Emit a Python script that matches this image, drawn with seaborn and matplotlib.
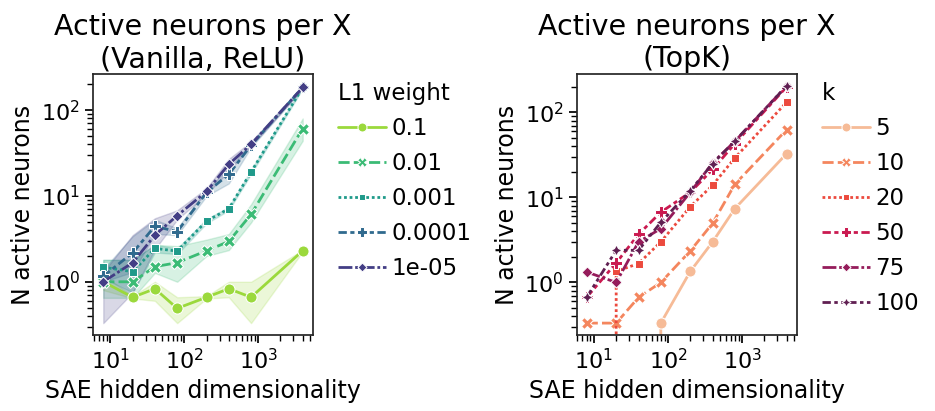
import numpy as np
import pandas as pd
import matplotlib
matplotlib.use("Agg")
import matplotlib.pyplot as plt
import seaborn as sns

# ---------------- data ----------------
dims = [8, 20, 40, 80, 200, 400, 800, 4000]

l1_levels = ["0.1", "0.01", "0.001", "0.0001", "1e-05"]
# per L1 weight: lower seed, central seed, upper seed
l1_low = {
    "0.1":    [0.80, 0.64, 0.60, 0.33, 0.64, 0.66, 0.33, 2.25],
    "0.01":   [0.65, 0.65, 1.27, 1.00, 2.00, 2.34, 4.90, 44.0],
    "0.001":  [1.10, 0.75, 2.20, 2.10, 4.80, 6.80, 18.0, 178.0],
    "0.0001": [1.00, 1.30, 3.60, 3.50, 10.0, 14.0, 37.0, 178.0],
    "1e-05":  [0.33, 0.75, 2.40, 5.30, 10.5, 19.5, 38.0, 178.0],
}
l1_mid = {
    "0.1":    [1.00, 0.66, 0.83, 0.49, 0.66, 0.83, 0.66, 2.30],
    "0.01":   [1.00, 1.00, 1.50, 1.67, 2.30, 2.95, 6.10, 61.0],
    "0.001":  [1.48, 1.31, 2.45, 2.28, 5.10, 7.10, 19.0, 184.0],
    "0.0001": [1.16, 2.18, 4.45, 3.83, 11.0, 17.9, 39.0, 184.0],
    "1e-05":  [1.00, 1.67, 3.50, 5.90, 11.3, 23.4, 40.0, 184.0],
}
l1_high = {
    "0.1":    [1.20, 0.68, 1.00, 0.66, 0.68, 1.00, 1.00, 2.35],
    "0.01":   [1.80, 1.80, 2.70, 2.60, 3.10, 3.60, 8.00, 80.0],
    "0.001":  [1.80, 1.80, 2.70, 2.45, 5.40, 7.40, 20.0, 190.0],
    "0.0001": [1.40, 3.40, 5.30, 4.20, 12.0, 21.0, 42.0, 190.0],
    "1e-05":  [1.30, 3.50, 5.50, 6.80, 12.3, 27.0, 43.0, 192.0],
}

k_levels = ["5", "10", "20", "50", "75", "100"]
k_active = {
    "5":   [0.0, 0.0, 0.0, 0.333, 1.35, 3.0, 7.4, 32.8],
    "10":  [0.333, 0.333, 0.667, 1.0, 2.35, 4.96, 14.3, 62.7],
    "20":  [0.0, 1.35, 1.67, 3.0, 7.8, 13.9, 29.2, 132.0],
    "50":  [0.67, 1.70, 3.68, 6.7, 11.5, 21.3, 43.0, 200.0],
    "75":  [1.33, 1.00, 3.00, 4.3, 11.5, 25.5, 45.7, 205.0],
    "100": [0.67, 2.39, 2.39, 5.1, 12.0, 25.0, 46.0, 205.0],
}

XL = "SAE hidden dimensionality"
YL = "N active neurons"

rows = []
for lvl in l1_levels:
    for arr in (l1_low[lvl], l1_mid[lvl], l1_high[lvl]):
        for d, v in zip(dims, arr):
            rows.append({XL: d, YL: v, "L1 weight": lvl})
df_vanilla = pd.DataFrame(rows)

rows = []
for lvl in k_levels:
    for d, v in zip(dims, k_active[lvl]):
        rows.append({XL: d, YL: v, "k": lvl})
df_topk = pd.DataFrame(rows)

# ---------------- style ----------------
sns.set_theme(style="ticks", context="notebook")
plt.rcParams['font.family'] = ['DejaVu Sans']
plt.rcParams.update({
    "text.color": "black",
    "axes.labelcolor": "black",
    "xtick.color": "black",
    "ytick.color": "black",
    "axes.edgecolor": "#262626",
})

vir = matplotlib.colormaps["viridis"]
pal_left = [vir(p) for p in (0.85, 0.68, 0.54, 0.34, 0.18)]
pal_right = sns.color_palette("rocket_r", 7)[:6]

fig = plt.figure(figsize=(9.35, 4.11), dpi=100)
ax1 = fig.add_axes([0.0998, 0.185, 0.2346, 0.635])
ax2 = fig.add_axes([0.6168, 0.185, 0.2353, 0.635])

sns.lineplot(data=df_vanilla, x=XL, y=YL, hue="L1 weight", style="L1 weight",
             hue_order=l1_levels, style_order=l1_levels, palette=pal_left,
             markers=True, dashes=True, estimator="median",
             errorbar=("pi", 100), linewidth=2.0, markersize=8, ax=ax1)
sns.lineplot(data=df_topk, x=XL, y=YL, hue="k", style="k",
             hue_order=k_levels, style_order=k_levels, palette=pal_right,
             markers=True, dashes=True, errorbar=None, linewidth=2.0,
             markersize=8, ax=ax2)

titles = ["Active neurons per X\n(Vanilla, ReLU)", "Active neurons per X\n(TopK)"]
for ax, t in zip((ax1, ax2), titles):
    ax.set_xscale("log")
    ax.set_yscale("log")
    ax.set_title(t, fontsize=20.5, pad=5)
    ax.set_xlabel(XL, fontsize=17)
    ax.set_ylabel(YL, fontsize=17)
    ax.tick_params(axis="both", which="major", labelsize=16)
    sns.move_legend(ax, "upper left", bbox_to_anchor=(1.02, 1.05), frameon=False,
                    fontsize=16.5, title_fontsize=16.5, handletextpad=0.25,
                    handlelength=2.1, labelspacing=0.53)
    leg = ax.get_legend()
    leg._legend_box.align = "left"
    for line in leg.get_lines():
        line.set_markersize(6.5)

fig.savefig("out.png", dpi=100)
